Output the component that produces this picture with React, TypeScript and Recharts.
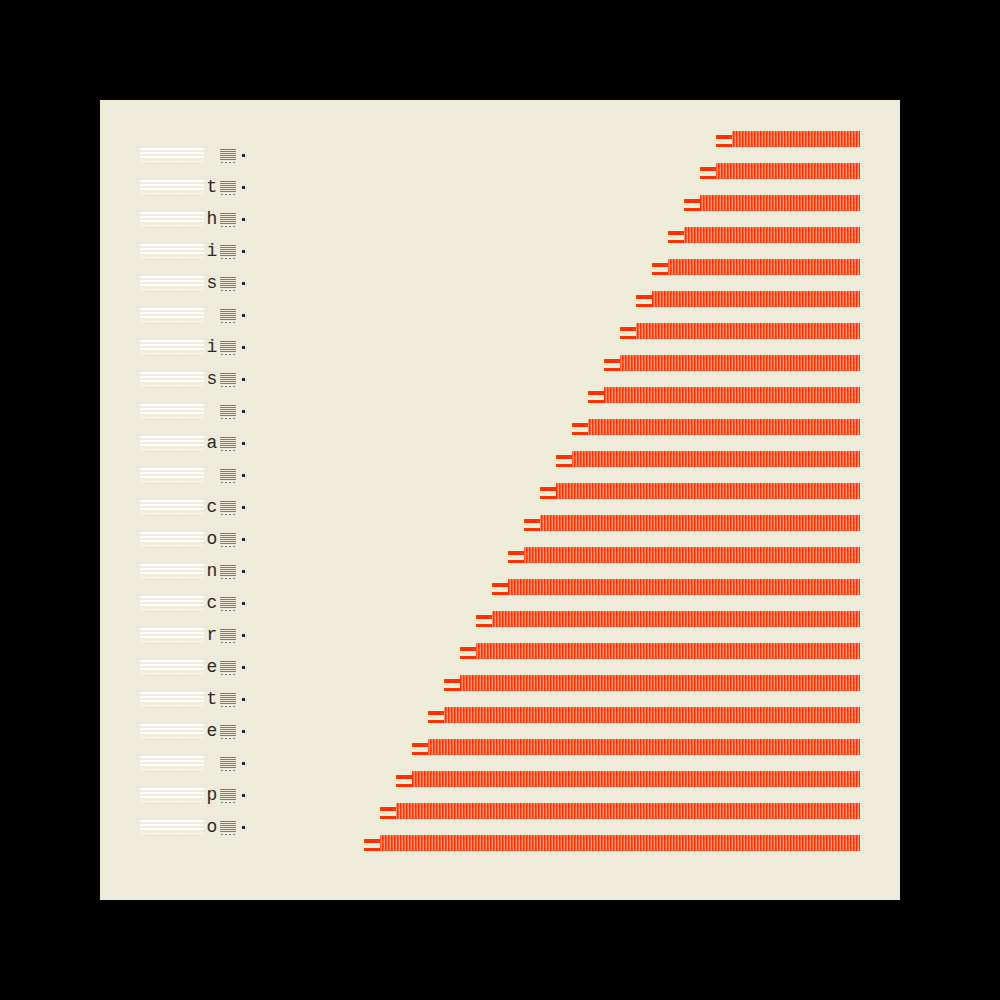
import React from 'react';
import { BarChart, Bar, XAxis, YAxis } from 'recharts';

// bar lengths (in 16px units), top to bottom
const barLengths = [8, 9, 10, 11, 12, 13, 14, 15, 16, 17, 18, 19, 20, 21, 22, 23, 24, 25, 26, 27, 28, 29, 30];
// one-unit marker at the start of each bar
const tipWidth = 1;
// labels sit between the bars (last bar has none)
const rowLabels = [' ', 't', 'h', 'i', 's', ' ', 'i', 's', ' ', 'a', ' ', 'c', 'o', 'n', 'c', 'r', 'e', 't', 'e', ' ', 'p', 'o', ''];

const data = barLengths.map((len, i) => ({ key: i, len, tip: tipWidth }));

const PANEL = '#EFEBDA';
const RED = '#FF3300';

function RowTick(props: any) {
  const { y, payload } = props;
  const label = rowLabels[payload.value];
  if (label === '') return null;
  const cy = Math.round(y + 16);
  return (
    <g shapeRendering="crispEdges">
      {[-6, -2, 2].map((d) => (
        <rect key={d} x={40} y={cy + d - 1} width={64} height={2} fill="#ffffff" />
      ))}
      <line x1={40} x2={104} y1={cy + 6.5} y2={cy + 6.5} stroke="#ffffff" strokeWidth={1} strokeDasharray="2 1" />
      {label.trim() !== '' && (
        <text x={112} y={cy} textAnchor="middle" dominantBaseline="central" fontFamily="Liberation Mono" fontSize={18} fill="#2a2a2a" shapeRendering="auto">
          {label}
        </text>
      )}
      {[-6, -4, -2, 0, 2, 4].map((d) => (
        <line key={d} x1={120} x2={136} y1={cy + d + 0.5} y2={cy + d + 0.5} stroke="#6a8590" strokeWidth={1} />
      ))}
      <line x1={121} x2={136} y1={cy + 7.5} y2={cy + 7.5} stroke="#6a8590" strokeWidth={1} strokeDasharray="2 2" />
      <rect x={142} y={cy - 1} width={3} height={3} fill="#1d2a3a" />
    </g>
  );
}

function TipShape(props: any) {
  const { x, y, width, height } = props;
  const w = Math.abs(width);
  const left = width < 0 ? x + width : x;
  return (
    <g shapeRendering="crispEdges">
      <rect x={left} y={y + 4} width={w} height={4} fill={RED} />
      <rect x={left} y={y + height - 3} width={w} height={3} fill={RED} />
    </g>
  );
}

export default function App() {
  return (
    <div style={{ position: 'absolute', left: 0, top: 0, width: 1000, height: 1000, background: '#000' }}>
      <div style={{ position: 'absolute', left: 100, top: 100, width: 800, height: 800, background: PANEL }}>
        <BarChart
          width={800}
          height={800}
          data={data}
          layout="vertical"
          margin={{ top: 23, right: 40, bottom: 41, left: 0 }}
        >
          <defs>
            <pattern id="stripes" patternUnits="userSpaceOnUse" width={3} height={10}>
              <rect x={0} y={0} width={3} height={10} fill="#FF9478" />
              <rect x={0} y={0} width={1.6} height={10} fill={RED} />
            </pattern>
          </defs>
          <XAxis type="number" domain={[0, 45]} reversed hide />
          <YAxis
            type="category"
            dataKey="key"
            width={40}
            axisLine={false}
            tickLine={false}
            tick={<RowTick />}
            interval={0}
          />
          <Bar dataKey="len" stackId="a" fill="url(#stripes)" barSize={16} isAnimationActive={false} />
          <Bar dataKey="tip" stackId="a" barSize={16} shape={<TipShape />} isAnimationActive={false} />
        </BarChart>
      </div>
    </div>
  );
}
